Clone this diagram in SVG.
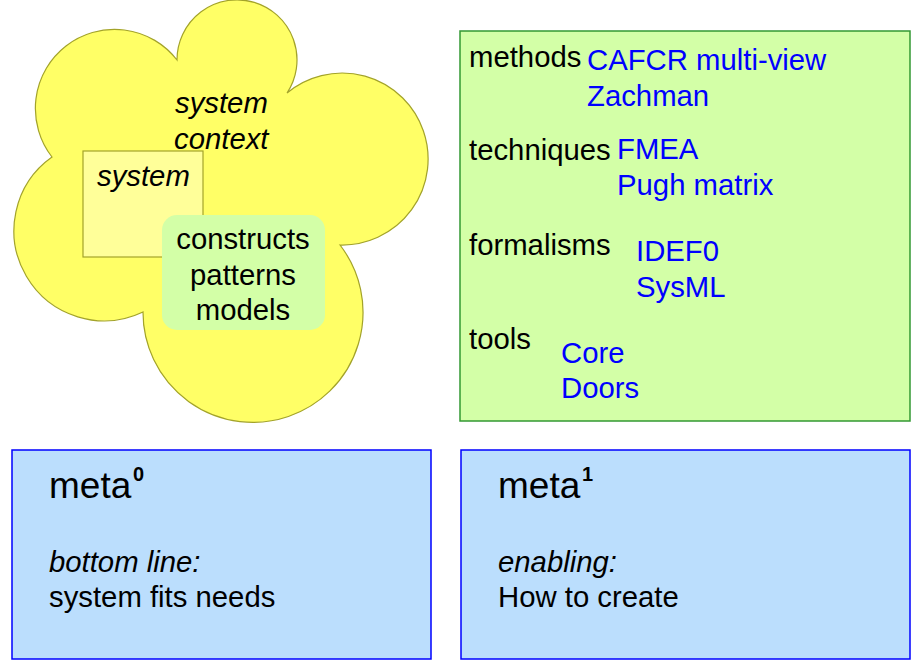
<svg xmlns="http://www.w3.org/2000/svg" width="920" height="660" viewBox="0 0 920 660">
<style>
text{font-family:"Liberation Sans",Arial,sans-serif;font-size:29.3px;fill:#000}
.i{font-style:italic}
.b{fill:#0000ff}
.meta{font-size:37px}
.sup{font-size:20px;font-weight:bold}
.blue{fill:#bbdefd;stroke:#0000ff;stroke-width:1.5}
</style>
<rect width="920" height="660" fill="#ffffff"/>
<g id="context">
<path d="M52,157 A79,79 0 1 1 177,60 A60,60 0 1 1 287,93 A86,86 0 1 1 340,245 A110,110 0 1 1 143,312 A90.2,90.2 0 0 1 52,157 Z" fill="#ffff66" stroke="#a3a32a" stroke-width="1.2"/>
<text class="i" x="175" y="113">system</text>
<text class="i" x="174" y="149">context</text>
</g>
<g id="system">
<rect x="83" y="151" width="120" height="106" fill="#ffff99" stroke="#a3a32a" stroke-width="1.2"/>
<text class="i" x="97" y="186">system</text>
</g>
<g id="constructs">
<rect x="162" y="215" width="163" height="115" rx="15" fill="#d3ffa7"/>
<text x="243" y="249" text-anchor="middle">constructs</text>
<text x="243" y="285" text-anchor="middle">patterns</text>
<text x="243" y="320" text-anchor="middle">models</text>
</g>
<g id="toolbox">
<rect x="460" y="31" width="450" height="390" fill="#d3ffa7" stroke="#339933" stroke-width="1.5"/>
<text x="469" y="67">methods</text>
<text class="b" x="587" y="70">CAFCR multi-view</text>
<text class="b" x="587" y="106">Zachman</text>
<text x="469" y="160">techniques</text>
<text class="b" x="617" y="159">FMEA</text>
<text class="b" x="617" y="195">Pugh matrix</text>
<text x="469" y="255">formalisms</text>
<text class="b" x="636" y="261">IDEF0</text>
<text class="b" x="636" y="297">SysML</text>
<text x="469" y="349">tools</text>
<text class="b" x="561" y="363">Core</text>
<text class="b" x="561" y="398">Doors</text>
</g>
<g id="meta0">
<rect class="blue" x="12" y="450" width="419" height="209"/>
<text class="meta" x="49" y="498">meta</text>
<text class="sup" x="133" y="481">0</text>
<text class="i" x="49" y="572">bottom line:</text>
<text x="49" y="607">system fits needs</text>
</g>
<g id="meta1">
<rect class="blue" x="461" y="450" width="449" height="209"/>
<text class="meta" x="498" y="498">meta</text>
<text class="sup" x="582" y="481">1</text>
<text class="i" x="498" y="572">enabling:</text>
<text x="498" y="607">How to create</text>
</g>
<g id="connectors"/>
</svg>
